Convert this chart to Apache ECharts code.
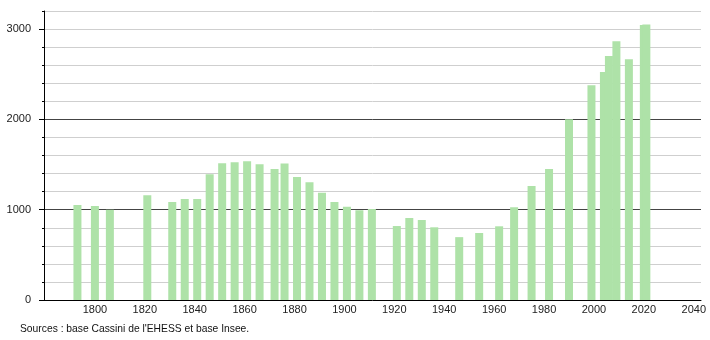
<!DOCTYPE html>
<html>
<head>
<meta charset="utf-8">
<script src="https://cdn.jsdelivr.net/npm/echarts@6/dist/echarts.min.js"></script>
<style>html,body{margin:0;padding:0;background:#fff;}#c{width:710px;height:340px;}</style>
</head>
<body>
<div id="c"></div>
<script>
const years = [1793,1800,1806,1821,1831,1836,1841,1846,1851,1856,1861,1866,1872,1876,1881,1886,1891,1896,1901,1906,1911,1921,1926,1931,1936,1946,1954,1962,1968,1975,1982,1990,1999,2004,2006,2009,2014,2020,2021];
const population = [1052,1041,1000,1160,1085,1117,1117,1392,1514,1525,1536,1503,1451,1512,1362,1303,1188,1085,1033,995,1008,819,908,886,805,696,742,816,1026,1262,1451,2001,2378,2525,2702,2865,2666,3045,3050];
const xTickLabels = [1800,1820,1840,1860,1880,1900,1920,1940,1960,1980,2000,2020,2040];
const yTickLabels = [0,1000,2000,3000];
const sourceText = "Sources : base Cassini de l'EHESS et base Insee.";

const chart = echarts.init(document.getElementById('c'), null, {renderer: 'canvas'});
const font = 'Liberation Sans, Arial, sans-serif';
const plain = v => String(Math.round(v));
chart.setOption({
  animation: false,
  backgroundColor: '#fff',
  grid: {left: 44, right: 9, top: 11, bottom: 40, containLabel: false},
  xAxis: {
    type: 'value', min: 1779.6, max: 2042.9,
    axisLine: {show: true, lineStyle: {color: '#000', width: 1}},
    axisTick: {show: false},
    splitLine: {show: false},
    axisLabel: {customValues: xTickLabels, formatter: plain, color: '#222', fontSize: 11, fontFamily: font, margin: 4}
  },
  yAxis: [
    {
      type: 'value', min: 0, max: 3200, interval: 200, position: 'left',
      axisLine: {show: true, lineStyle: {color: '#000', width: 1}},
      axisTick: {show: true, length: 2, lineStyle: {color: '#000'}},
      axisLabel: {show: false},
      splitLine: {show: true, lineStyle: {color: '#cfcfcf', width: 1}}
    },
    {
      type: 'value', min: 0, max: 3200, interval: 1000, position: 'left', offset: 0,
      axisLine: {show: false},
      axisTick: {show: true, length: 5, customValues: yTickLabels, lineStyle: {color: '#000'}},
      axisLabel: {customValues: yTickLabels, formatter: plain, color: '#222', fontSize: 11, fontFamily: font, margin: 13},
      splitLine: {show: true, showMaxLine: false, showMinLine: false, lineStyle: {color: '#444', width: 1}}
    }
  ],
  series: [{
    type: 'bar',
    yAxisIndex: 0,
    barWidth: 8,
    itemStyle: {color: '#aee2a8'},
    data: years.map((y, i) => [y, population[i]])
  }],
  graphic: [{
    type: 'text', left: 20, top: 324,
    style: {text: sourceText, fill: '#111', font: '10.3px ' + font}
  }]
});
</script>
</body>
</html>
